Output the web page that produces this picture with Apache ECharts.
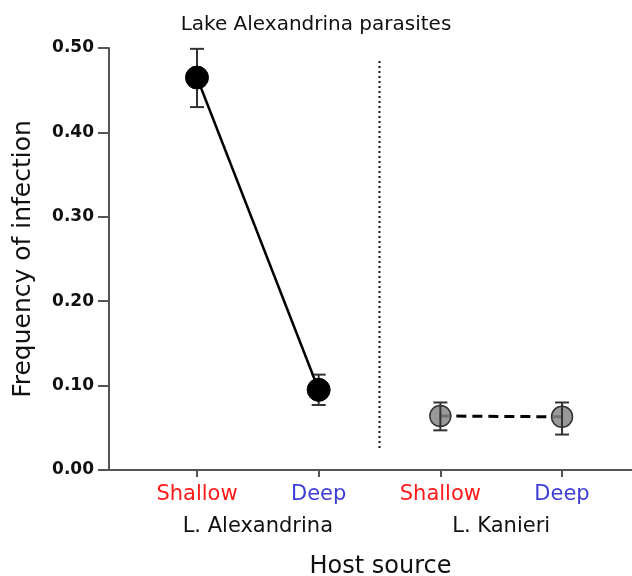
<!DOCTYPE html>
<html>
<head>
<meta charset="utf-8">
<script src="https://cdn.jsdelivr.net/npm/echarts@6/dist/echarts.min.js"></script>
<style>
html, body { margin: 0; padding: 0; background: #fff; }
#chart { width: 632px; height: 576px; }
</style>
</head>
<body>
<div id="chart"></div>
<script>
// data
var categories = ['Shallow', 'Deep', 'Shallow', 'Deep'];
var groups = ['L. Alexandrina', 'L. Kanieri'];
var alexMean = [0.465, 0.095];
var alexLow = [0.430, 0.077];
var alexHigh = [0.499, 0.113];
var kanMean = [0.064, 0.063];
var kanLow = [0.047, 0.042];
var kanHigh = [0.080, 0.080];
var divider = [0.026, 0.488];
var star = [1.6, 0.300];

var font = 'DejaVu Sans, Verdana, sans-serif';
var catColor = { Shallow: '#ff1a1a', Deep: '#3d3dd6' };

var myChart = echarts.init(document.getElementById('chart'));

function errData(mean, low, high, x0) {
    return mean.map(function (m, i) { return [x0 + i, low[i], high[i]]; });
}

// vertical error bar with caps
function renderErr(params, api) {
    var x = api.value(0);
    var lo = api.coord([x, api.value(1)]);
    var hi = api.coord([x, api.value(2)]);
    var w = 7;
    var style = { stroke: '#333', lineWidth: 2 };
    return {
        type: 'group',
        children: [
            { type: 'line', shape: { x1: lo[0], y1: lo[1], x2: hi[0], y2: hi[1] }, style: style },
            { type: 'line', shape: { x1: lo[0] - w, y1: lo[1], x2: lo[0] + w, y2: lo[1] }, style: style },
            { type: 'line', shape: { x1: hi[0] - w, y1: hi[1], x2: hi[0] + w, y2: hi[1] }, style: style }
        ]
    };
}

var option = {
    animation: false,
    title: {
        text: 'Lake Alexandrina parasites',
        left: 'center',
        top: 10,
        textStyle: { fontFamily: font, fontSize: 20, fontWeight: 'normal', color: '#111' }
    },
    grid: { left: 109, right: 0, top: 48, bottom: 106, outerBoundsMode: 'none' },
    xAxis: [{
        type: 'value',
        min: 0.277,
        max: 4.575,
        splitLine: { show: false },
        axisLine: { lineStyle: { color: '#555', width: 2 } },
        axisTick: { show: true, length: 7, lineStyle: { color: '#555', width: 2 }, customValues: [1, 2, 3, 4] },
        axisLabel: {
            margin: 14,
            customValues: [1, 2, 3, 4],
            fontFamily: font,
            fontSize: 21,
            formatter: function (v) {
                var c = categories[Math.round(v) - 1];
                return '{' + c + '|' + c + '}';
            },
            rich: {
                Shallow: { color: catColor.Shallow, fontFamily: font, fontSize: 21 },
                Deep: { color: catColor.Deep, fontFamily: font, fontSize: 21 }
            }
        },
        name: 'Host source',
        nameLocation: 'middle',
        nameGap: 85,
        nameTextStyle: { fontFamily: font, fontSize: 24, color: '#111', padding: [0, 0, 0, 20] }
    }, {
        type: 'value',
        position: 'bottom',
        min: 0.277,
        max: 4.575,
        splitLine: { show: false },
        axisLine: { show: false },
        axisTick: { show: false },
        axisLabel: {
            margin: 46,
            customValues: [1.5, 3.5],
            fontFamily: font,
            fontSize: 21,
            color: '#111',
            formatter: function (v) { return v < 2.5 ? groups[0] : groups[1]; }
        }
    }],
    yAxis: {
        type: 'value',
        min: 0,
        max: 0.5,
        interval: 0.1,
        splitLine: { show: false },
        axisLine: { show: true, lineStyle: { color: '#555', width: 2 } },
        axisTick: { show: true, length: 11, lineStyle: { color: '#555', width: 2 } },
        axisLabel: {
            margin: 15,
            fontFamily: font,
            fontSize: 17,
            fontWeight: 'bold',
            color: '#111',
            formatter: function (v) { return v.toFixed(2); }
        },
        name: 'Frequency of infection',
        nameLocation: 'middle',
        nameGap: 73,
        nameTextStyle: { fontFamily: font, fontSize: 25, color: '#111' }
    },
    series: [
        {
            type: 'line',
            data: [[2.5, divider[0]], [2.5, divider[1]]],
            symbol: 'none',
            lineStyle: { color: '#111', width: 2, type: [2, 3] },
            z: 1
        },
        {
            type: 'custom',
            renderItem: renderErr,
            data: errData(alexMean, alexLow, alexHigh, 1),
            z: 2
        },
        {
            type: 'line',
            data: alexMean.map(function (m, i) { return [1 + i, m]; }),
            symbol: 'circle',
            symbolSize: 23,
            itemStyle: { color: '#000', borderColor: '#000', borderWidth: 1 },
            lineStyle: { color: '#000', width: 2.5 },
            z: 3
        },
        {
            type: 'line',
            data: kanMean.map(function (m, i) { return [3 + i, m]; }),
            symbol: 'circle',
            symbolSize: 21,
            itemStyle: { color: 'rgba(135,135,135,0.85)', borderColor: '#333', borderWidth: 1.5 },
            lineStyle: { color: '#000', width: 3, type: [10, 6] },
            z: 3
        },
        {
            type: 'custom',
            renderItem: renderErr,
            data: errData(kanMean, kanLow, kanHigh, 3),
            z: 4
        },
        {
            type: 'scatter',
            data: [star],
            symbol: 'none',
            label: {
                show: true,
                position: 'inside',
                formatter: '*',
                fontFamily: font,
                fontSize: 22,
                fontWeight: 'bold',
                color: '#111'
            }
        }
    ]
};

myChart.setOption(option);
window.onresize = myChart.resize;
</script>
</body>
</html>
